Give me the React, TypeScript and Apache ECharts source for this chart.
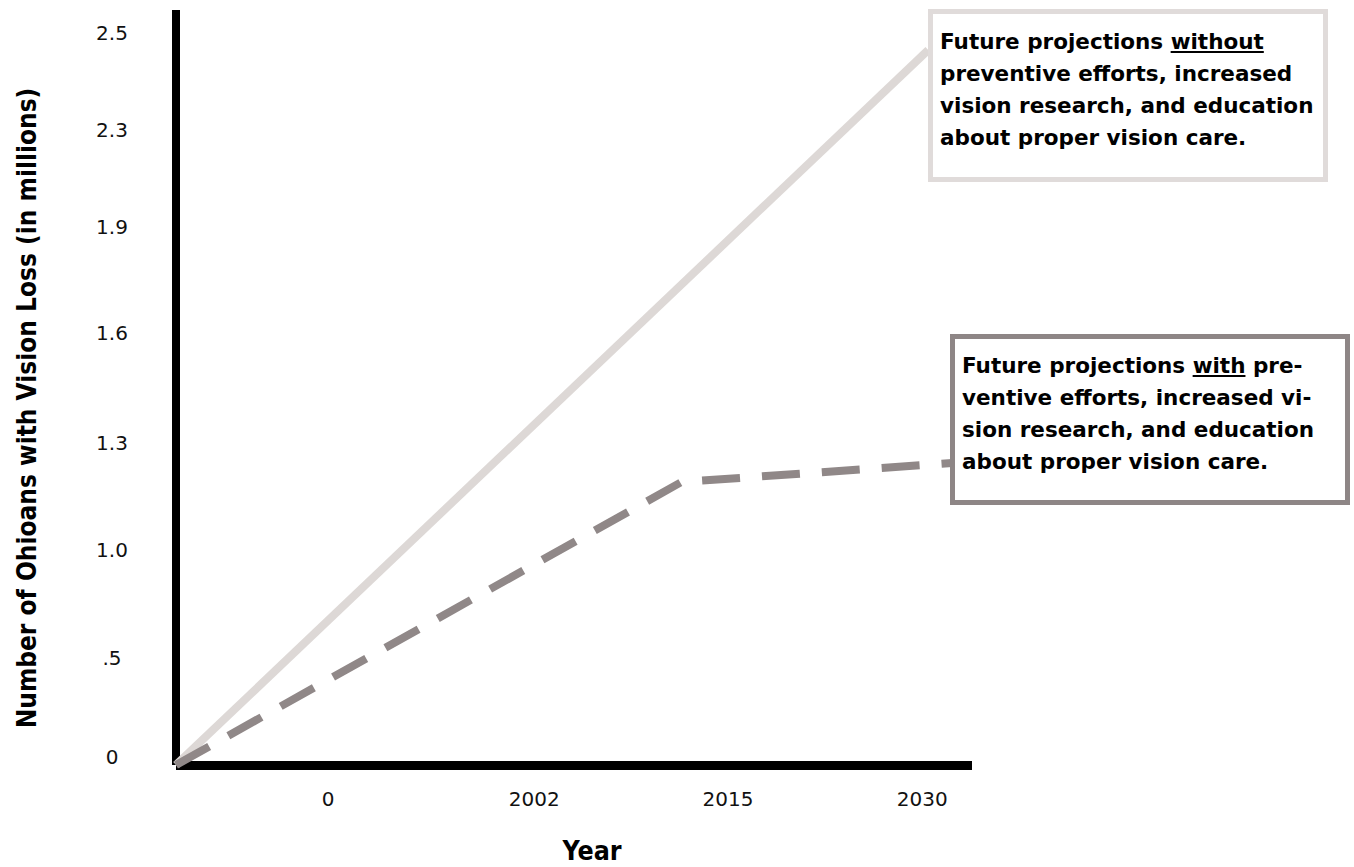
import React, { useEffect, useRef } from "react";
import * as echarts from "echarts";

// Axis tick labels and their positions along each axis (axis units)
const yearLabels = ["0", "2002", "2015", "2030"];
const yearPos = [0.764, 1.8, 2.774, 3.75];
const valueLabels = ["0", ".5", "1.0", "1.3", "1.6", "1.9", "2.3", "2.5"];
const valuePos = [0.08, 1.07, 2.15, 3.22, 4.32, 5.38, 6.35, 7.32];

// Series (positions, in axis units)
const withoutX = [0, 3.78];
const withoutY = [0, 7.15];
const withX = [0, 2.54, 3.9];
const withY = [0, 2.83, 3.02];

const box1Lines = [
  "Future projections ",
  "preventive efforts, increased",
  "vision research, and education",
  "about proper vision care.",
];
const box1Word = "without";
const box2Lines = [
  "Future projections ",
  "ventive efforts, increased vi-",
  "sion research, and education",
  "about proper vision care.",
];
const box2Word = "with";
const box2Tail = " pre-";

const BOX_FONT = "bold 21.5px 'DejaVu Sans'";

function measure(text: string, font: string): number {
  const c = document.createElement("canvas").getContext("2d");
  if (!c) return text.length * 12;
  c.font = font;
  return c.measureText(text).width;
}

function nearestLabel(v: number, pos: number[], labels: string[]): string {
  let best = 0;
  for (let i = 1; i < pos.length; i++) {
    if (Math.abs(pos[i] - v) < Math.abs(pos[best] - v)) best = i;
  }
  return labels[best];
}

export default function App() {
  const ref = useRef<HTMLDivElement>(null);
  useEffect(() => {
    document.body.style.margin = "0";
    if (!ref.current) return;
    const chart = echarts.init(ref.current, undefined, { renderer: "svg" });

    const b1x = 940;
    const b1y = [41, 73, 105, 137];
    const b2x = 962;
    const b2y = [365, 397, 429, 461];
    const pre1 = measure(box1Lines[0], BOX_FONT);
    const w1 = measure(box1Word, BOX_FONT);
    const pre2 = measure(box2Lines[0], BOX_FONT);
    const w2 = measure(box2Word, BOX_FONT);

    const textEl = (x: number, y: number, text: string) => ({
      type: "text",
      x,
      y,
      z: 20,
      style: {
        text,
        fill: "#000",
        font: BOX_FONT,
        textAlign: "left",
        textVerticalAlign: "middle",
      },
    });

    const graphics: any[] = [
      {
        type: "rect",
        z: 10,
        shape: { x: 930.5, y: 11.5, width: 395, height: 168 },
        style: { fill: "#fff", stroke: "#e0dbda", lineWidth: 5 },
      },
      {
        type: "rect",
        z: 10,
        shape: { x: 952.5, y: 336.5, width: 395, height: 166 },
        style: { fill: "#fff", stroke: "#8e8686", lineWidth: 5 },
      },
      textEl(b1x, b1y[0], box1Lines[0] + box1Word),
      textEl(b1x, b1y[1], box1Lines[1]),
      textEl(b1x, b1y[2], box1Lines[2]),
      textEl(b1x, b1y[3], box1Lines[3]),
      {
        type: "line",
        z: 20,
        shape: { x1: b1x + pre1, y1: b1y[0] + 11, x2: b1x + pre1 + w1, y2: b1y[0] + 11 },
        style: { stroke: "#000", lineWidth: 2 },
      },
      textEl(b2x, b2y[0], box2Lines[0] + box2Word + box2Tail),
      textEl(b2x, b2y[1], box2Lines[1]),
      textEl(b2x, b2y[2], box2Lines[2]),
      textEl(b2x, b2y[3], box2Lines[3]),
      {
        type: "line",
        z: 20,
        shape: { x1: b2x + pre2, y1: b2y[0] + 11, x2: b2x + pre2 + w2, y2: b2y[0] + 11 },
        style: { stroke: "#000", lineWidth: 2 },
      },
      {
        type: "text",
        x: 27,
        y: 408,
        rotation: Math.PI / 2,
        scaleX: 0.9,
        z: 20,
        style: {
          text: "Number of Ohioans with Vision Loss (in millions)",
          fill: "#000",
          font: "bold 26px 'DejaVu Sans'",
          textAlign: "center",
          textVerticalAlign: "middle",
        },
      },
      {
        type: "text",
        x: 592,
        y: 851,
        scaleX: 0.92,
        z: 20,
        style: {
          text: "Year",
          fill: "#000",
          font: "bold 26px 'DejaVu Sans'",
          textAlign: "center",
          textVerticalAlign: "middle",
        },
      },
    ];

    const option: any = {
      animation: false,
      backgroundColor: "#fff",
      grid: { left: 176, right: 382, top: 10, bottom: 102, containLabel: false, outerBoundsMode: "none" },
      xAxis: {
        type: "value",
        min: 0,
        max: 4,
        axisLine: { show: true, onZero: false, lineStyle: { color: "#000", width: 9, cap: "butt" } },
        axisTick: { show: false },
        splitLine: { show: false },
        axisLabel: {
          customValues: yearPos,
          margin: 24,
          color: "#111",
          fontFamily: "DejaVu Sans",
          fontSize: 20,
          formatter: (v: number) => nearestLabel(v, yearPos, yearLabels),
        },
      },
      yAxis: {
        type: "value",
        min: 0,
        max: 7.55,
        axisLine: { show: true, onZero: false, lineStyle: { color: "#000", width: 8, cap: "butt" } },
        axisTick: { show: false },
        splitLine: { show: false },
        axisLabel: {
          customValues: valuePos,
          margin: 64,
          align: "center",
          color: "#111",
          fontFamily: "DejaVu Sans",
          fontSize: 20,
          formatter: (v: number) => nearestLabel(v, valuePos, valueLabels),
        },
      },
      series: [
        {
          type: "line",
          name: "without",
          data: withoutX.map((x, i) => [x, withoutY[i]]),
          symbol: "none",
          clip: false,
          z: 3,
          lineStyle: { color: "#ddd8d6", width: 8, cap: "butt" },
        },
        {
          type: "line",
          name: "with",
          data: withX.map((x, i) => [x, withY[i]]),
          symbol: "none",
          clip: false,
          z: 4,
          lineStyle: { color: "#908888", width: 8, type: [38, 22], cap: "butt" },
        },
      ],
      graphic: graphics,
    };
    chart.setOption(option);
    return () => chart.dispose();
  }, []);
  return <div ref={ref} style={{ width: 1354, height: 867 }} />;
}
